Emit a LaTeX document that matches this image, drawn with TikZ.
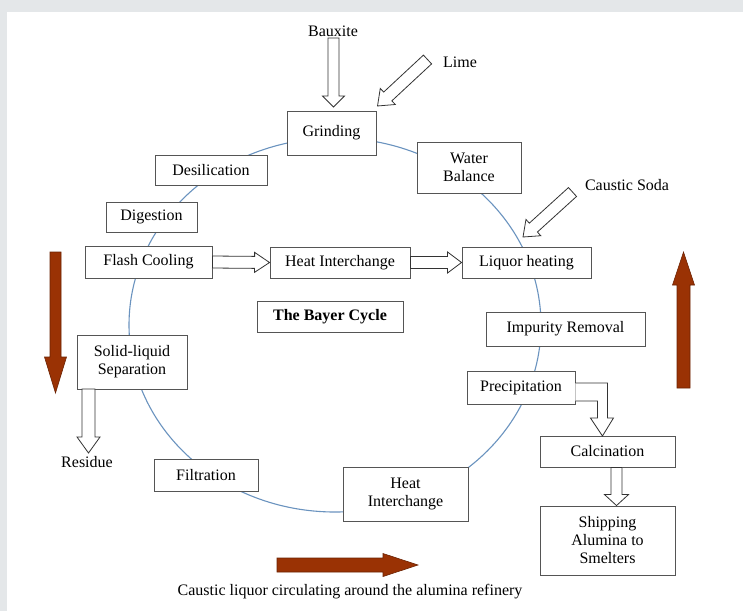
\documentclass[tikz,border=0pt]{standalone}
\usepackage{fontspec}
\setmainfont{Liberation Serif}
\usetikzlibrary{calc}

\definecolor{bggrey}{HTML}{E4E7E9}
\definecolor{cycleblue}{HTML}{6A93BF}
\definecolor{boxline}{HTML}{555555}
\definecolor{flowred}{HTML}{9A3204}
\definecolor{flowredline}{HTML}{6B2203}

% block arrow from #2 to #3: shaft half width #4, head half width #5, head length #6
\newcommand{\blockarrow}[6][hollow]{%
  \path[#1] let \p1=($(#3)-(#2)$), \n1={atan2(\y1,\x1)}, \n2={veclen(\x1,\y1)} in
    [shift={(#2)}, rotate=\n1]
    (0,#4) -- (\n2-#6,#4) -- (\n2-#6,#5) -- (\n2,0) -- (\n2-#6,-#5) -- (\n2-#6,-#4) -- (0,-#4) -- cycle;
}

\begin{document}
\begin{tikzpicture}[
		x=1pt, y=-1pt,
		every node/.style={font=\fontsize{16}{18}\selectfont, inner sep=0pt},
		box/.style={rectangle, draw=boxline, fill=white, line width=0.9pt, align=center},
		plain/.style={align=center},
		hollow/.style={draw=black!80, fill=white, line width=0.8pt, line join=miter},
		flow/.style={draw=flowredline, fill=flowred, line width=0.6pt},
		cycle line/.style={draw=cycleblue, line width=1.1pt}
	]
  \useasboundingbox (0,0) rectangle (743,611);
  \fill[bggrey] (0,0) rectangle (743,611);
  \fill[white] (7,12) rectangle (743,611);

  % the cycle
  \path[cycle line] (335,325) ellipse [x radius=206pt, y radius=187pt];

  \node (grinding) [box, minimum width=89, minimum height=44] at (331.5, 133) {Grinding};
  \node (water) [box, minimum width=104, minimum height=51] at (469, 167.5) {Water\\Balance};
  \node (desil) [box, minimum width=112, minimum height=30] at (211, 170) {Desilication};
  \node (digestion) [box, minimum width=91, minimum height=30] at (151.5, 217) {Digestion};
  \node (flash_cool) [box, minimum width=127, minimum height=32] at (148.5, 262) {Flash Cooling};
  \node (heat_int1) [box, minimum width=140, minimum height=31] at (340, 262.5) {Heat Interchange};
  \node (liquor) [box, minimum width=129, minimum height=31] at (526.5, 262.5) {Liquor heating};
  \node (bayer) [box, minimum width=146, minimum height=31, font=\fontsize{16}{18}\selectfont\bfseries] at (330, 316.5) {The Bayer Cycle};
  \node (impurity) [box, minimum width=159, minimum height=34] at (565.5, 329) {Impurity Removal};
  \node (solid) [box, minimum width=110, minimum height=54] at (132, 362) {Solid-liquid\\Separation};
  \node (precip) [box, minimum width=108, minimum height=33] at (521, 387.5) {Precipitation};
  \node (calcination) [box, minimum width=135, minimum height=31] at (607.5, 451.5) {Calcination};
  \node (shipping) [box, minimum width=135, minimum height=69] at (607.5, 540.5) {Shipping\\Alumina to\\Smelters};
  \node (filtration) [box, minimum width=104, minimum height=32] at (206, 475) {Filtration};
  \node (heat_int2) [box, minimum width=125, minimum height=54] at (405.5, 494) {Heat\\Interchange};

  \node (bauxite) [plain] at (333, 31) {Bauxite};
  \node (lime) [plain] at (460, 62) {Lime};
  \node (soda) [plain] at (627, 185) {Caustic Soda};
  \node (residue) [plain] at (87, 462) {Residue};
  \node (caption) [plain] at (350, 592) {Caustic liquor circulating around the alumina refinery};

  \coordinate (bauxite_top) at (333.5, 38);
  \coordinate (bauxite_tip) at (333.5, 107);
  \coordinate (lime_tail) at (427.5, 59.5);
  \coordinate (lime_tip) at (377.5, 106);
  \coordinate (soda_tail) at (572.5, 192);
  \coordinate (soda_tip) at (523, 237);
  \coordinate (residue_top) at (88.5, 389);
  \coordinate (residue_tip) at (88.5, 453);
  \coordinate (down_top) at (55.5, 252);
  \coordinate (down_tip) at (55.5, 393);
  \coordinate (up_bottom) at (683.5, 388);
  \coordinate (up_tip) at (683.5, 252);
  \coordinate (right_tail) at (277, 565);
  \coordinate (right_tip) at (418, 565);

  % inputs and outputs
  \blockarrow{bauxite_top}{bauxite_tip}{5.5}{11}{11}
  \blockarrow{lime_tail}{lime_tip}{6}{11}{14}
  \blockarrow{soda_tail}{soda_tip}{6}{11}{14}
  \blockarrow{flash_cool.east}{heat_int1.west}{6}{10}{15}
  \blockarrow{heat_int1.east}{liquor.west}{6}{10.5}{14}
  \blockarrow{residue_top}{residue_tip}{6.5}{11.5}{16}
  \blockarrow{[xshift=9pt]calcination.south}{[xshift=9pt]shipping.north}{5.5}{12}{11}
  \draw[hollow] ($(precip.east)+(0,-4.5)$) -- ++(32,0) -- ++(0,35) -- ++(6,0) -- ++(-11,18)
    -- ++(-12,-18) -- ++(7,0) -- ++(0,-17) -- ++(-22,0);

  % liquor flow direction
  \blockarrow[flow]{down_top}{down_tip}{5.5}{11}{36}
  \blockarrow[flow]{up_bottom}{up_tip}{6.5}{11}{33}
  \blockarrow[flow]{right_tail}{right_tip}{7}{11.5}{35}
\end{tikzpicture}
\end{document}
